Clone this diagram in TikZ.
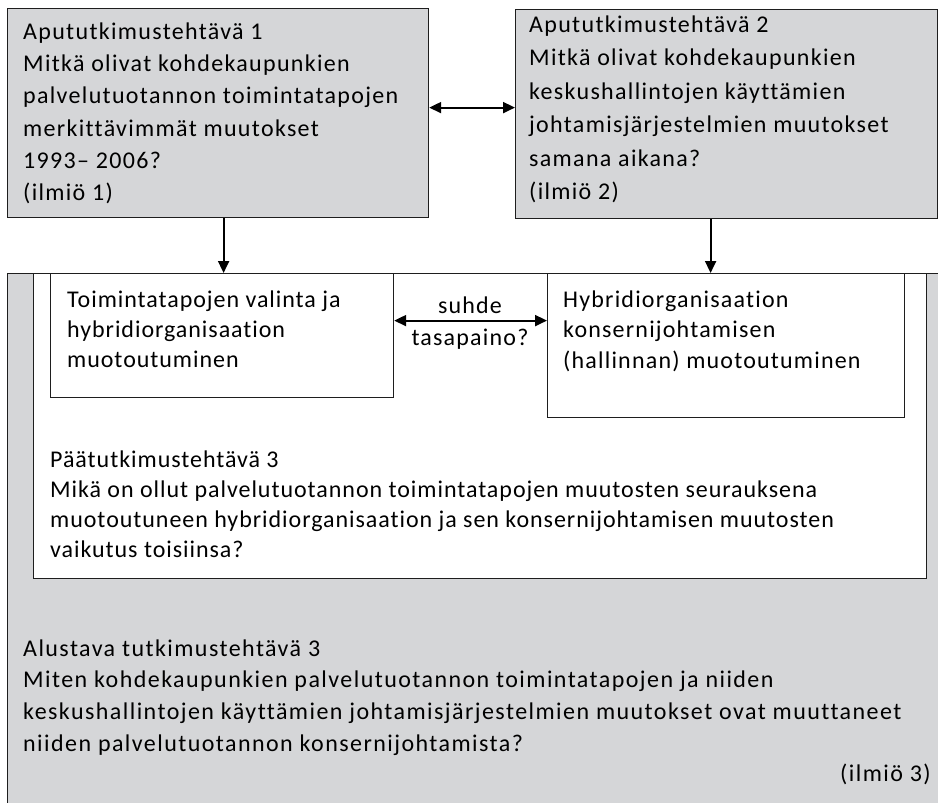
\documentclass[tikz,border=0pt]{standalone}
\usepackage{fontspec}
\setmainfont{Carlito}[Ligatures={NoCommon,NoContextual},Contextuals=NoAlternate]
\usetikzlibrary{arrows.meta}
\definecolor{panel}{RGB}{213,214,216}
\definecolor{edge}{RGB}{30,30,30}
% stacked left-aligned lines; the baseline is that of the first line
\newcommand\txtlines[2]{\vtop{\baselineskip=#1pt\relax\halign{##\hfil\cr#2\crcr}}}
% body size with a given tracking
\newcommand\trk[1]{\fontsize{24}{28}\selectfont\addfontfeature{LetterSpace=#1}}
\begin{document}
\begin{tikzpicture}[x=1pt,y=-1pt,
  panelbox/.style={draw=edge, line width=1.2pt, fill=panel, inner sep=0pt, anchor=north west},
  whitebox/.style={draw=edge, line width=1.2pt, fill=white, inner sep=0pt, anchor=north west},
  txt/.style={anchor=base west, inner sep=0pt, font=\trk{#1}},
  txt/.default=5,
  lbl/.style={anchor=base, inner sep=0pt, font=\trk{5}},
  tip/.tip={Triangle[length=12pt,width=11pt]},
  arr/.style={line width=2pt, -tip},
  biarr/.style={line width=2pt, tip-tip}]
\useasboundingbox (0,0) rectangle (938,803);
\fill[white] (0,0) rectangle (938,803);

% the two sub-questions
\node[panelbox, minimum width=421pt, minimum height=209pt] (q1) at (7,8) {};
\node[panelbox, minimum width=422pt, minimum height=209pt] (q2) at (515,9) {};

% large grey frame, running off the page to the right and below
\node[panelbox, minimum width=945pt, minimum height=545pt] (outer) at (7,273) {};
\node[whitebox, minimum width=893pt, minimum height=305pt] (main) at (33,273) {};
\node[whitebox, minimum width=343pt, minimum height=124pt] (toim) at (50,273) {};
\node[whitebox, minimum width=357pt, minimum height=144pt] (hyb) at (547,273) {};

% texts
\node[txt=5.5] (t1) at (23,39.5) {\txtlines{32.2}{Apututkimustehtävä 1\cr
Mitkä olivat kohdekaupunkien\cr
palvelutuotannon toimintatapojen\cr
merkittävimmät muutokset\cr
1993– 2006?\cr
(ilmiö 1)}};
\node[txt=5.5] (t2) at (529,32) {\txtlines{33.6}{Apututkimustehtävä 2\cr
Mitkä olivat kohdekaupunkien\cr
keskushallintojen käyttämien\cr
johtamisjärjestelmien muutokset\cr
samana aikana?\cr
(ilmiö 2)}};
\node[txt=4] (t3) at (67,307) {\txtlines{30}{Toimintatapojen valinta ja\cr
hybridiorganisaation\cr
muotoutuminen}};
\node[txt=5] (t4) at (563,307) {\txtlines{30.5}{Hybridiorganisaation\cr
konsernijohtamisen\cr
(hallinnan) muotoutuminen}};
\node[lbl] (suhde) at (470,313) {suhde};
\node[lbl] (tasap) at (470,345) {tasapaino?};
\node[txt=4] (t5) at (50,467) {\txtlines{30}{Päätutkimustehtävä 3\cr
Mikä on ollut palvelutuotannon toimintatapojen muutosten seurauksena\cr
muotoutuneen hybridiorganisaation ja sen konsernijohtamisen muutosten\cr
vaikutus toisiinsa?}};
\node[txt=6] (t6) at (23,656) {\txtlines{31.7}{Alustava tutkimustehtävä 3\cr
Miten kohdekaupunkien palvelutuotannon toimintatapojen ja niiden\cr
keskushallintojen käyttämien johtamisjärjestelmien muutokset ovat muuttaneet\cr
niiden palvelutuotannon konsernijohtamista?}};
\node[txt=6, anchor=base east] (ilm3) at (931,781) {(ilmiö 3)};

% connectors
\coordinate (m1) at ([yshift=5.5pt]q1.east);
\draw[biarr] (m1) -- (m1 -| q2.west);
\coordinate (d1) at ([xshift=5.5pt]q1.south);
\draw[arr] (d1) -- (d1 |- outer.north);
\coordinate (d2) at ([xshift=-16pt]q2.south);
\draw[arr] (d2) -- (d2 |- outer.north);
\coordinate (m2) at ([yshift=15pt]toim.east);
\draw[biarr] (m2) -- (m2 -| hyb.west);
\end{tikzpicture}
\end{document}
